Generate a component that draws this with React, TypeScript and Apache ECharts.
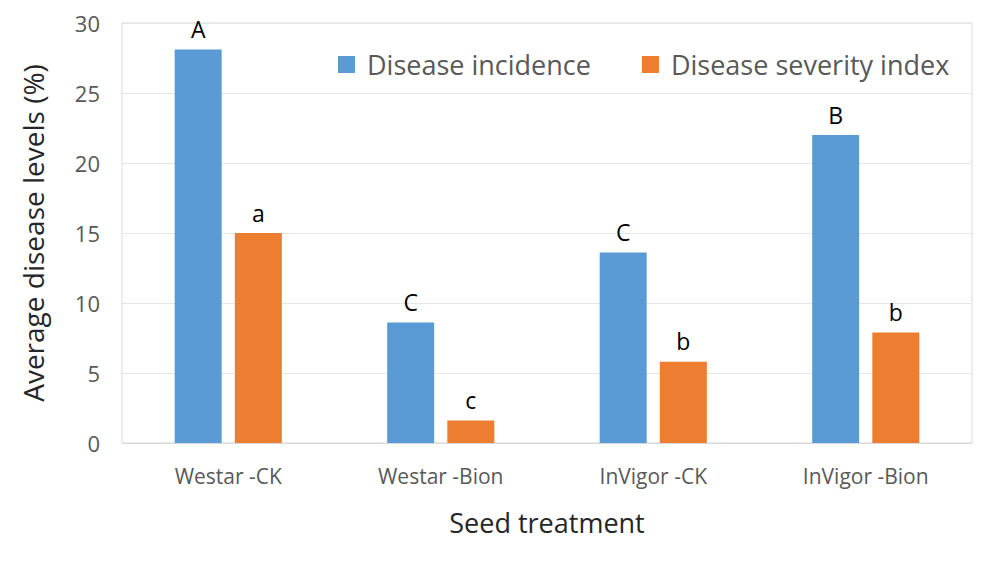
import React, { useEffect, useRef } from "react";
import * as echarts from "echarts";

const categories = ["Westar -CK", "Westar -Bion", "InVigor -CK", "InVigor -Bion"];
const incidence = [28.1, 8.6, 13.6, 22.0];
const severity = [15.0, 1.6, 5.8, 7.9];
const incidenceLetters = ["A", "C", "C", "B"];
const severityLetters = ["a", "c", "b", "b"];
const yTicks = [0, 5, 10, 15, 20, 25, 30];

const FONT = "Open Sans";

export default function App() {
  const ref = useRef<HTMLDivElement>(null);
  useEffect(() => {
    if (!ref.current) return;
    const chart = echarts.init(ref.current, null, { renderer: "svg" });
    const letterLabel = (letters: string[]) => ({
      show: true,
      position: "top",
      distance: 9,
      formatter: (p: any) => letters[p.dataIndex],
      color: "#000",
      fontFamily: FONT,
      fontSize: 23,
    });
    chart.setOption({
      animation: false,
      backgroundColor: "#fff",
      grid: { left: 122, right: 28, top: 23, bottom: 124, show: true, borderColor: "#d9d9d9", borderWidth: 1, containLabel: false },
      legend: {
        top: 46,
        left: 333,
        itemWidth: 17,
        itemHeight: 17,
        itemGap: 51,
        icon: "rect",
        textStyle: { fontFamily: FONT, fontSize: 27, color: "#595959", padding: [0, 0, 0, 7] },
        data: ["Disease incidence", "Disease severity index"],
      },
      xAxis: {
        type: "category",
        data: categories,
        axisLine: { show: true, lineStyle: { color: "#d9d9d9" } },
        axisTick: { show: false },
        axisLabel: { fontFamily: FONT, fontSize: 21, color: "#595959", margin: 22 },
        name: "Seed treatment",
        nameLocation: "middle",
        nameGap: 66,
        nameTextStyle: { fontFamily: FONT, fontSize: 27, color: "#262626" },
      },
      yAxis: {
        type: "value",
        min: yTicks[0],
        max: yTicks[yTicks.length - 1],
        interval: 5,
        axisLine: { show: false },
        axisTick: { show: false },
        splitLine: { lineStyle: { color: "#e6e6e6" } },
        axisLabel: { fontFamily: FONT, fontSize: 22, color: "#595959", margin: 22 },
        name: "Average disease levels (%)",
        nameLocation: "middle",
        nameGap: 75,
        nameTextStyle: { fontFamily: FONT, fontSize: 28, color: "#262626" },
      },
      series: [
        {
          name: "Disease incidence",
          type: "bar",
          data: incidence,
          barWidth: 47,
          barGap: "28%",
          itemStyle: { color: "#5b9bd5" },
          label: letterLabel(incidenceLetters),
        },
        {
          name: "Disease severity index",
          type: "bar",
          data: severity,
          barWidth: 47,
          itemStyle: { color: "#ed7d31" },
          label: letterLabel(severityLetters),
        },
      ],
    });
    return () => chart.dispose();
  }, []);
  return <div ref={ref} style={{ position: "absolute", left: 0, top: 0, width: 1000, height: 567 }} />;
}
